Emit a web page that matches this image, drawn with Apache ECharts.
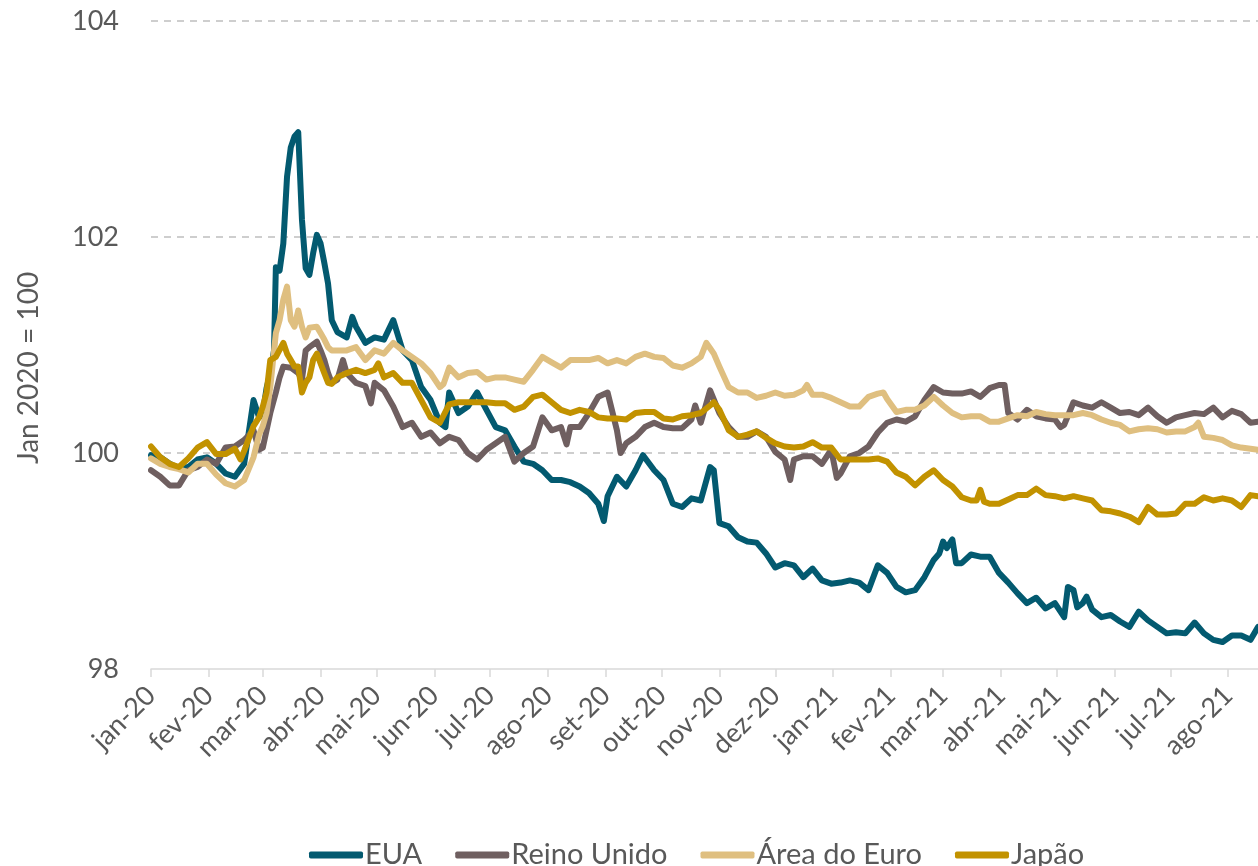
<!DOCTYPE html>
<html>
<head>
<meta charset="utf-8">
<script src="https://cdn.jsdelivr.net/npm/echarts@6/dist/echarts.min.js"></script>
<style>
html,body{margin:0;padding:0;background:#fff;}
#chart{width:1258px;height:866px;}
</style>
</head>
<body>
<div id="chart"></div>
<script>
const monthStarts = ['2020-01-01','2020-02-01','2020-03-01','2020-04-01','2020-05-01','2020-06-01','2020-07-01','2020-08-01','2020-09-01','2020-10-01','2020-11-01','2020-12-01','2021-01-01','2021-02-01','2021-03-01','2021-04-01','2021-05-01','2021-06-01','2021-07-01','2021-08-01'];
const tickLabels = ['jan-20','fev-20','mar-20','abr-20','mai-20','jun-20','jul-20','ago-20','set-20','out-20','nov-20','dez-20','jan-21','fev-21','mar-21','abr-21','mai-21','jun-21','jul-21','ago-21'];
const seriesNames = ['EUA','Reino Unido','Área do Euro','Japão'];
const firstDay = '2020-01-01';
const lastDay = '2021-08-17';

const EUA = [
['2020-01-01',99.98],['2020-01-06',99.96],['2020-01-11',99.9],['2020-01-16',99.86],['2020-01-21',99.87],['2020-01-26',99.94],['2020-01-31',99.96],
['2020-02-05',99.9],['2020-02-10',99.81],['2020-02-15',99.78],['2020-02-20',99.9],['2020-02-25',100.49],['2020-02-28',100.33],
['2020-03-01',100.37],['2020-03-03',100.6],['2020-03-05',100.74],['2020-03-07',100.95],['2020-03-08',101.72],['2020-03-10',101.69],['2020-03-12',101.94],
['2020-03-14',102.56],['2020-03-16',102.83],['2020-03-18',102.93],['2020-03-20',102.97],['2020-03-22',102.16],['2020-03-24',101.71],['2020-03-26',101.65],
['2020-03-28',101.85],['2020-03-30',102.02],['2020-04-01',101.94],['2020-04-03',101.76],['2020-04-05',101.57],['2020-04-07',101.23],['2020-04-10',101.12],
['2020-04-15',101.07],['2020-04-18',101.26],['2020-04-20',101.17],['2020-04-25',101.02],['2020-04-30',101.07],['2020-05-05',101.05],['2020-05-10',101.23],
['2020-05-15',100.95],['2020-05-20',100.86],['2020-05-25',100.61],['2020-05-30',100.49],['2020-06-04',100.28],['2020-06-07',100.24],['2020-06-09',100.56],
['2020-06-14',100.37],['2020-06-19',100.43],['2020-06-24',100.56],['2020-06-29',100.4],['2020-07-04',100.24],['2020-07-09',100.21],['2020-07-14',100.06],
['2020-07-19',99.92],['2020-07-24',99.9],['2020-07-29',99.84],['2020-08-03',99.75],['2020-08-08',99.75],['2020-08-13',99.73],['2020-08-18',99.69],
['2020-08-23',99.63],['2020-08-28',99.53],['2020-08-31',99.37],['2020-09-02',99.6],['2020-09-07',99.78],['2020-09-12',99.69],['2020-09-17',99.84],
['2020-09-21',99.98],['2020-09-27',99.84],['2020-10-02',99.75],['2020-10-07',99.53],['2020-10-12',99.5],['2020-10-17',99.58],['2020-10-22',99.56],
['2020-10-27',99.87],['2020-10-29',99.84],['2020-11-01',99.35],['2020-11-06',99.32],['2020-11-11',99.22],['2020-11-16',99.18],['2020-11-21',99.17],
['2020-11-26',99.07],['2020-12-01',98.94],['2020-12-06',98.98],['2020-12-11',98.96],['2020-12-16',98.85],['2020-12-21',98.93],['2020-12-26',98.82],
['2020-12-31',98.79],['2021-01-05',98.8],['2021-01-10',98.82],['2021-01-15',98.8],['2021-01-20',98.73],['2021-01-25',98.96],['2021-01-30',98.89],
['2021-02-04',98.76],['2021-02-09',98.71],['2021-02-14',98.73],['2021-02-19',98.85],['2021-02-24',99.01],['2021-02-27',99.07],['2021-03-01',99.18],
['2021-03-03',99.12],['2021-03-06',99.2],['2021-03-08',98.98],['2021-03-11',98.98],['2021-03-16',99.06],['2021-03-21',99.04],['2021-03-26',99.04],
['2021-03-31',98.89],['2021-04-05',98.8],['2021-04-10',98.7],['2021-04-15',98.61],['2021-04-20',98.66],['2021-04-25',98.56],['2021-04-30',98.61],
['2021-05-05',98.48],['2021-05-07',98.76],['2021-05-10',98.73],['2021-05-12',98.57],['2021-05-15',98.61],['2021-05-17',98.67],['2021-05-20',98.55],
['2021-05-25',98.48],['2021-05-30',98.5],['2021-06-04',98.44],['2021-06-09',98.39],['2021-06-14',98.53],['2021-06-19',98.45],['2021-06-24',98.39],
['2021-06-29',98.33],['2021-07-04',98.34],['2021-07-09',98.33],['2021-07-14',98.43],['2021-07-19',98.33],['2021-07-24',98.27],['2021-07-29',98.25],
['2021-08-03',98.31],['2021-08-08',98.31],['2021-08-13',98.27],['2021-08-17',98.39]
];

const reinoUnido = [
['2020-01-01',99.84],['2020-01-06',99.78],['2020-01-11',99.7],['2020-01-16',99.7],['2020-01-21',99.84],['2020-01-26',99.87],['2020-01-31',99.94],
['2020-02-05',99.9],['2020-02-10',100.05],['2020-02-15',100.06],['2020-02-20',100.12],['2020-02-25',100.21],['2020-02-28',100.03],
['2020-03-01',100.05],['2020-03-05',100.37],['2020-03-08',100.56],['2020-03-10',100.7],['2020-03-12',100.8],['2020-03-16',100.79],['2020-03-20',100.74],
['2020-03-22',100.68],['2020-03-24',100.95],['2020-03-26',100.98],['2020-03-30',101.03],['2020-04-01',100.95],['2020-04-03',100.86],['2020-04-05',100.74],
['2020-04-07',100.65],['2020-04-10',100.68],['2020-04-13',100.86],['2020-04-15',100.74],['2020-04-20',100.65],['2020-04-25',100.62],['2020-04-28',100.46],
['2020-04-30',100.65],['2020-05-05',100.58],['2020-05-10',100.43],['2020-05-15',100.24],['2020-05-20',100.28],['2020-05-25',100.15],['2020-05-30',100.19],
['2020-06-04',100.09],['2020-06-09',100.15],['2020-06-14',100.12],['2020-06-19',100.0],['2020-06-24',99.94],['2020-06-29',100.03],['2020-07-04',100.09],
['2020-07-09',100.15],['2020-07-14',99.92],['2020-07-19',100.0],['2020-07-24',100.06],['2020-07-29',100.33],['2020-08-03',100.21],['2020-08-08',100.24],
['2020-08-11',100.08],['2020-08-13',100.24],['2020-08-18',100.24],['2020-08-23',100.37],['2020-08-28',100.52],['2020-09-02',100.56],['2020-09-07',100.21],
['2020-09-09',100.0],['2020-09-12',100.09],['2020-09-17',100.15],['2020-09-22',100.24],['2020-09-27',100.28],['2020-10-02',100.24],['2020-10-07',100.23],
['2020-10-12',100.23],['2020-10-17',100.31],['2020-10-19',100.44],['2020-10-22',100.28],['2020-10-27',100.58],['2020-11-01',100.37],['2020-11-06',100.24],
['2020-11-11',100.15],['2020-11-16',100.15],['2020-11-21',100.2],['2020-11-26',100.15],['2020-12-01',100.01],['2020-12-06',99.94],['2020-12-09',99.75],
['2020-12-11',99.94],['2020-12-16',99.97],['2020-12-21',99.97],['2020-12-26',99.9],['2020-12-31',100.03],['2021-01-03',99.77],['2021-01-05',99.81],
['2021-01-10',99.97],['2021-01-15',100.0],['2021-01-20',100.06],['2021-01-25',100.19],['2021-01-30',100.28],['2021-02-04',100.31],['2021-02-09',100.29],
['2021-02-14',100.34],['2021-02-19',100.49],['2021-02-24',100.61],['2021-03-01',100.56],['2021-03-06',100.55],['2021-03-11',100.55],['2021-03-16',100.57],
['2021-03-21',100.52],['2021-03-26',100.6],['2021-03-31',100.63],['2021-04-03',100.63],['2021-04-05',100.37],['2021-04-10',100.31],['2021-04-15',100.4],
['2021-04-20',100.34],['2021-04-25',100.32],['2021-04-30',100.31],['2021-05-03',100.24],['2021-05-05',100.26],['2021-05-10',100.47],['2021-05-15',100.44],
['2021-05-20',100.42],['2021-05-25',100.47],['2021-05-30',100.42],['2021-06-04',100.37],['2021-06-09',100.38],['2021-06-14',100.35],['2021-06-19',100.42],
['2021-06-24',100.34],['2021-06-29',100.28],['2021-07-04',100.33],['2021-07-09',100.35],['2021-07-14',100.37],['2021-07-19',100.36],['2021-07-24',100.42],
['2021-07-29',100.33],['2021-08-03',100.39],['2021-08-08',100.36],['2021-08-13',100.28],['2021-08-17',100.29]
];

const areaEuro = [
['2020-01-01',99.95],['2020-01-06',99.9],['2020-01-11',99.87],['2020-01-16',99.85],['2020-01-21',99.82],['2020-01-26',99.9],['2020-01-31',99.9],
['2020-02-05',99.8],['2020-02-10',99.72],['2020-02-15',99.69],['2020-02-20',99.75],['2020-02-25',99.96],['2020-02-28',100.17],
['2020-03-01',100.25],['2020-03-03',100.37],['2020-03-05',100.61],['2020-03-08',101.11],['2020-03-10',101.23],['2020-03-12',101.42],['2020-03-14',101.54],
['2020-03-16',101.23],['2020-03-18',101.17],['2020-03-20',101.32],['2020-03-22',101.17],['2020-03-24',101.07],['2020-03-26',101.16],['2020-03-30',101.17],
['2020-04-01',101.11],['2020-04-03',101.05],['2020-04-05',100.98],['2020-04-07',100.95],['2020-04-10',100.95],['2020-04-15',100.95],['2020-04-20',100.98],
['2020-04-25',100.86],['2020-04-30',100.95],['2020-05-05',100.92],['2020-05-10',101.02],['2020-05-15',100.95],['2020-05-20',100.89],['2020-05-25',100.83],
['2020-05-30',100.74],['2020-06-04',100.61],['2020-06-06',100.64],['2020-06-09',100.79],['2020-06-14',100.7],['2020-06-19',100.74],['2020-06-24',100.75],
['2020-06-29',100.68],['2020-07-04',100.7],['2020-07-09',100.7],['2020-07-14',100.68],['2020-07-19',100.66],['2020-07-24',100.77],['2020-07-29',100.89],
['2020-08-03',100.84],['2020-08-08',100.79],['2020-08-13',100.86],['2020-08-18',100.86],['2020-08-23',100.86],['2020-08-28',100.88],['2020-09-02',100.83],
['2020-09-07',100.86],['2020-09-12',100.83],['2020-09-17',100.89],['2020-09-22',100.92],['2020-09-27',100.89],['2020-10-02',100.88],['2020-10-07',100.81],
['2020-10-12',100.79],['2020-10-17',100.83],['2020-10-22',100.89],['2020-10-25',101.02],['2020-10-27',100.97],['2020-10-29',100.92],['2020-11-01',100.8],
['2020-11-06',100.61],['2020-11-11',100.56],['2020-11-16',100.56],['2020-11-21',100.51],['2020-11-26',100.53],['2020-12-01',100.56],['2020-12-06',100.53],
['2020-12-11',100.54],['2020-12-16',100.58],['2020-12-18',100.63],['2020-12-21',100.54],['2020-12-26',100.54],['2020-12-31',100.51],['2021-01-05',100.47],
['2021-01-10',100.43],['2021-01-15',100.43],['2021-01-20',100.52],['2021-01-25',100.55],['2021-01-28',100.56],['2021-01-30',100.5],['2021-02-04',100.38],
['2021-02-09',100.4],['2021-02-14',100.4],['2021-02-19',100.44],['2021-02-24',100.52],['2021-03-01',100.44],['2021-03-06',100.37],['2021-03-11',100.33],
['2021-03-16',100.34],['2021-03-21',100.34],['2021-03-26',100.29],['2021-03-31',100.29],['2021-04-05',100.32],['2021-04-10',100.35],['2021-04-15',100.34],
['2021-04-20',100.38],['2021-04-25',100.36],['2021-04-30',100.35],['2021-05-05',100.35],['2021-05-10',100.35],['2021-05-15',100.37],['2021-05-20',100.35],
['2021-05-25',100.31],['2021-05-30',100.28],['2021-06-04',100.26],['2021-06-09',100.2],['2021-06-14',100.22],['2021-06-19',100.23],['2021-06-24',100.22],
['2021-06-29',100.19],['2021-07-04',100.2],['2021-07-09',100.2],['2021-07-14',100.24],['2021-07-16',100.28],['2021-07-19',100.15],['2021-07-24',100.14],
['2021-07-29',100.12],['2021-08-03',100.07],['2021-08-08',100.05],['2021-08-13',100.04],['2021-08-17',100.03]
];

const japao = [
['2020-01-01',100.06],['2020-01-06',99.96],['2020-01-11',99.9],['2020-01-16',99.87],['2020-01-21',99.95],['2020-01-26',100.05],['2020-01-31',100.1],
['2020-02-05',99.99],['2020-02-10',99.99],['2020-02-15',100.04],['2020-02-18',99.94],['2020-02-20',100.02],['2020-02-25',100.25],['2020-02-28',100.33],
['2020-03-01',100.43],['2020-03-03',100.56],['2020-03-05',100.86],['2020-03-08',100.89],['2020-03-12',101.02],['2020-03-14',100.92],['2020-03-16',100.86],
['2020-03-18',100.8],['2020-03-20',100.8],['2020-03-22',100.56],['2020-03-24',100.65],['2020-03-26',100.7],['2020-03-28',100.86],['2020-03-30',100.92],
['2020-04-01',100.83],['2020-04-03',100.74],['2020-04-05',100.65],['2020-04-07',100.64],['2020-04-10',100.7],['2020-04-15',100.74],['2020-04-20',100.77],
['2020-04-25',100.74],['2020-04-30',100.77],['2020-05-02',100.83],['2020-05-05',100.7],['2020-05-10',100.74],['2020-05-15',100.65],['2020-05-20',100.65],
['2020-05-25',100.49],['2020-05-30',100.33],['2020-06-04',100.28],['2020-06-09',100.45],['2020-06-14',100.47],['2020-06-19',100.47],['2020-06-24',100.47],
['2020-06-29',100.47],['2020-07-04',100.46],['2020-07-09',100.46],['2020-07-14',100.4],['2020-07-19',100.43],['2020-07-24',100.52],['2020-07-29',100.54],
['2020-08-03',100.47],['2020-08-08',100.4],['2020-08-13',100.37],['2020-08-18',100.4],['2020-08-23',100.38],['2020-08-28',100.33],['2020-09-02',100.32],
['2020-09-07',100.32],['2020-09-12',100.31],['2020-09-17',100.37],['2020-09-22',100.38],['2020-09-27',100.38],['2020-10-02',100.32],['2020-10-07',100.31],
['2020-10-12',100.34],['2020-10-17',100.35],['2020-10-22',100.37],['2020-10-27',100.44],['2020-10-29',100.47],['2020-11-01',100.4],['2020-11-06',100.21],
['2020-11-11',100.15],['2020-11-16',100.17],['2020-11-21',100.2],['2020-11-26',100.14],['2020-12-01',100.09],['2020-12-06',100.06],['2020-12-11',100.05],
['2020-12-16',100.06],['2020-12-21',100.1],['2020-12-26',100.05],['2020-12-31',100.05],['2021-01-05',99.94],['2021-01-10',99.94],['2021-01-15',99.94],
['2021-01-20',99.94],['2021-01-25',99.95],['2021-01-30',99.92],['2021-02-04',99.82],['2021-02-09',99.78],['2021-02-14',99.7],['2021-02-19',99.78],
['2021-02-24',99.84],['2021-03-01',99.75],['2021-03-06',99.69],['2021-03-11',99.59],['2021-03-16',99.56],['2021-03-19',99.56],['2021-03-21',99.66],
['2021-03-23',99.55],['2021-03-26',99.53],['2021-03-31',99.53],['2021-04-05',99.57],['2021-04-10',99.61],['2021-04-15',99.61],['2021-04-20',99.67],
['2021-04-25',99.61],['2021-04-30',99.6],['2021-05-05',99.58],['2021-05-10',99.6],['2021-05-15',99.58],['2021-05-20',99.56],['2021-05-25',99.47],
['2021-05-30',99.46],['2021-06-04',99.44],['2021-06-09',99.41],['2021-06-14',99.36],['2021-06-19',99.5],['2021-06-24',99.43],['2021-06-29',99.43],
['2021-07-04',99.44],['2021-07-09',99.53],['2021-07-14',99.53],['2021-07-19',99.59],['2021-07-24',99.56],['2021-07-29',99.58],['2021-08-03',99.56],
['2021-08-08',99.5],['2021-08-13',99.61],['2021-08-17',99.6]
];

const seriesData = [EUA, reinoUnido, areaEuro, japao];
const colors = ['#035a70', '#6f5f60', '#dfbf80', '#c29200'];

// calendar date -> day number (UTC based, no timezone drift)
function dayNum(s){ const p = s.split('-').map(Number); return Date.UTC(p[0], p[1]-1, p[2]) / 86400000; }
const monthDays = monthStarts.map(dayNum);

const FONT = 'Lato, "Noto Sans", sans-serif';
const chart = echarts.init(document.getElementById('chart'), null, {renderer: 'canvas'});
chart.setOption({
  animation: false,
  backgroundColor: '#ffffff',
  color: colors,
  textStyle: {fontFamily: FONT},
  grid: {left: 151, right: 0, top: 21, bottom: 197, containLabel: false},
  legend: {
    data: seriesNames,
    left: 304, top: 833,
    icon: 'roundRect', itemWidth: 54, itemHeight: 7, itemGap: 33,
    textStyle: {fontSize: 29, color: '#595959', fontFamily: FONT, lineHeight: 34, padding: [0, 0, 0, -3]}
  },
  xAxis: {
    type: 'value',
    min: dayNum(firstDay),
    max: dayNum(lastDay),
    splitLine: {show: false},
    axisLine: {show: true, lineStyle: {color: '#d9d9d9', width: 1.5}},
    axisTick: {show: true, length: 8, lineStyle: {color: '#d9d9d9', width: 1.5}, customValues: monthDays},
    axisLabel: {
      customValues: monthDays,
      rotate: 45, margin: 22, fontSize: 27, color: '#595959', fontFamily: FONT,
      formatter: function (v) {
        const i = monthDays.indexOf(v);
        return i >= 0 ? tickLabels[i] : '';
      }
    }
  },
  yAxis: {
    type: 'value', min: 98, max: 104, interval: 2,
    name: 'Jan 2020 = 100', nameLocation: 'middle', nameGap: 108, nameRotate: 90,
    nameTextStyle: {fontSize: 28, color: '#595959', fontFamily: FONT, padding: [0, 46, 0, 0]},
    axisLine: {show: false}, axisTick: {show: false},
    axisLabel: {fontSize: 27, color: '#595959', margin: 32, fontFamily: FONT},
    splitLine: {show: true, showMinLine: false, lineStyle: {color: '#bfbfbf', width: 1.5, type: [7, 6]}}
  },
  series: seriesNames.map(function (n, i) {
    return {
      name: n, type: 'line',
      data: seriesData[i].map(function (d) { return [dayNum(d[0]), d[1]]; }),
      showSymbol: false, symbol: 'none',
      lineStyle: {width: 6, color: colors[i], cap: 'round', join: 'round'},
      itemStyle: {color: colors[i]},
      emphasis: {disabled: true}, z: 2 + i
    };
  })
});
</script>
</body>
</html>
